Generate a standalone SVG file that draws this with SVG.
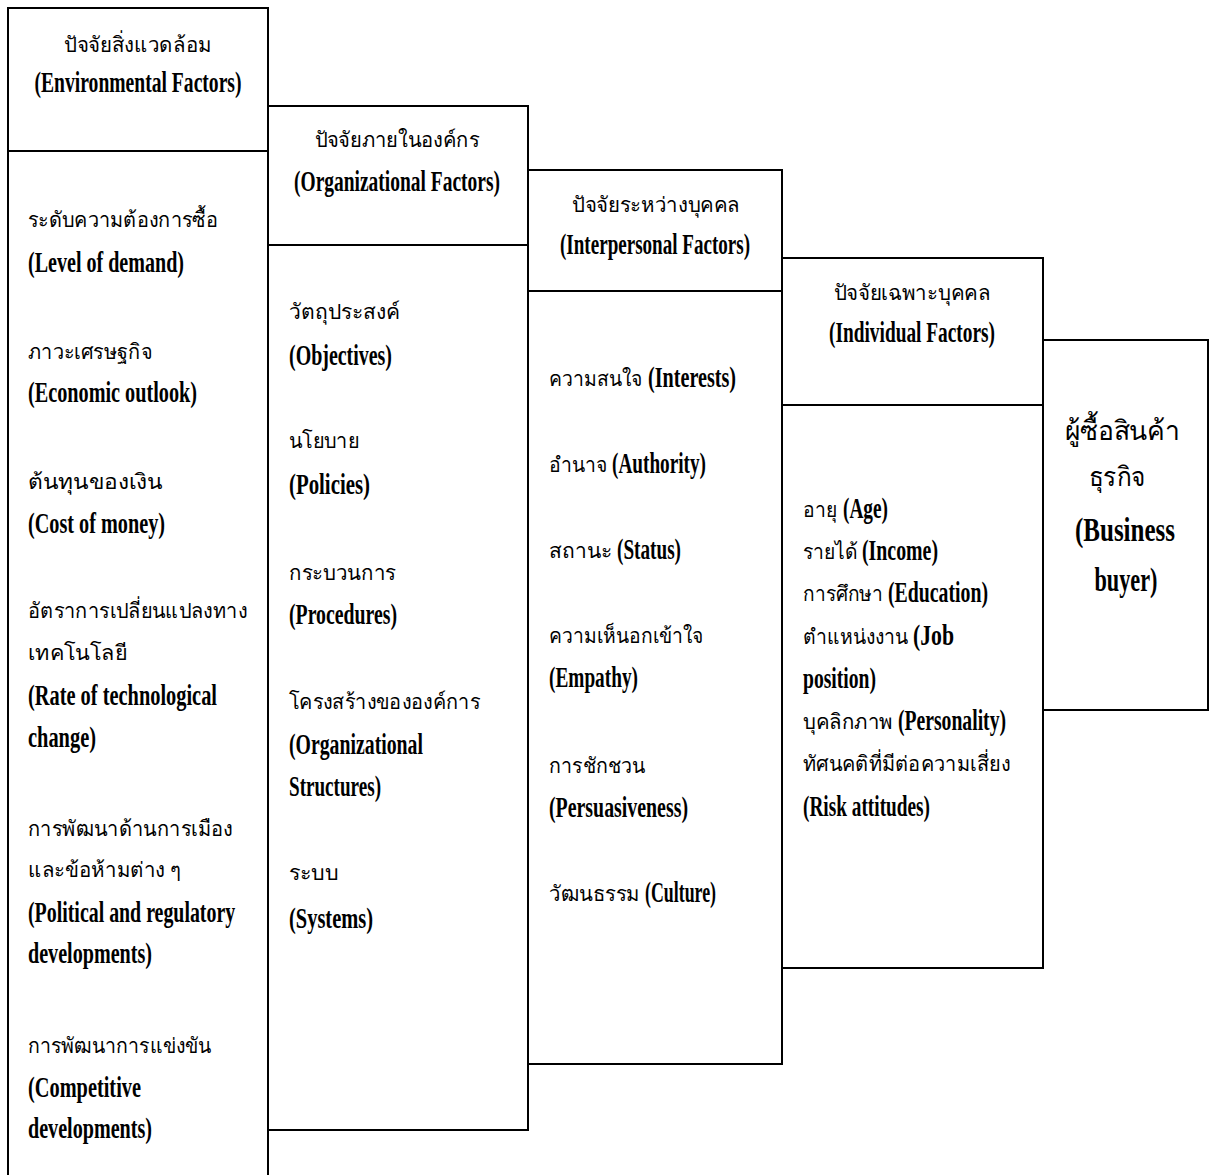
<svg xmlns="http://www.w3.org/2000/svg" width="1212" height="1175" viewBox="0 0 1212 1175">
<style>
.box{fill:#fff;stroke:#000;stroke-width:2}
.ln{fill:none;stroke:#000;stroke-width:2}
.th{font-family:"Liberation Serif","Noto Sans",serif;font-size:21px;fill:#000}
.en{font-family:"Liberation Serif",serif;font-weight:bold;font-size:29px;fill:#000}
.thL{font-family:"Liberation Serif","Noto Sans",serif;font-size:27px;fill:#000}
.enL{font-family:"Liberation Serif",serif;font-weight:bold;font-size:34px;fill:#000}
</style>
<rect width="1212" height="1175" fill="#fff"/>
<g id="connectors"/>
<g id="environmental">
<path class="box" d="M8,1180 V8 H268 V1180"/>
<line class="ln" x1="8" y1="151" x2="268" y2="151"/>
<text class="th" x="138" y="52" text-anchor="middle" textLength="148" lengthAdjust="spacingAndGlyphs">ปัจจัยสิ่งแวดล้อม</text>
<text class="en" x="138" y="92" text-anchor="middle" textLength="207" lengthAdjust="spacingAndGlyphs">(Environmental Factors)</text>
<text class="th" x="28" y="227" textLength="190" lengthAdjust="spacingAndGlyphs">ระดับความต้องการซื้อ</text>
<text class="en" x="28" y="272" textLength="156" lengthAdjust="spacingAndGlyphs">(Level of demand)</text>
<text class="th" x="28" y="359" textLength="124" lengthAdjust="spacingAndGlyphs">ภาวะเศรษฐกิจ</text>
<text class="en" x="28" y="402" textLength="169" lengthAdjust="spacingAndGlyphs">(Economic outlook)</text>
<text class="th" x="28" y="489" textLength="134" lengthAdjust="spacingAndGlyphs">ต้นทุนของเงิน</text>
<text class="en" x="28" y="533" textLength="137" lengthAdjust="spacingAndGlyphs">(Cost of money)</text>
<text class="th" x="28" y="618" textLength="219" lengthAdjust="spacingAndGlyphs">อัตราการเปลี่ยนแปลงทาง</text>
<text class="th" x="28" y="660" textLength="99" lengthAdjust="spacingAndGlyphs">เทคโนโลยี</text>
<text class="en" x="28" y="705" textLength="189" lengthAdjust="spacingAndGlyphs">(Rate of technological</text>
<text class="en" x="28" y="747" textLength="68" lengthAdjust="spacingAndGlyphs">change)</text>
<text class="th" x="28" y="836" textLength="205" lengthAdjust="spacingAndGlyphs">การพัฒนาด้านการเมือง</text>
<text class="th" x="28" y="877" textLength="153" lengthAdjust="spacingAndGlyphs">และข้อห้ามต่าง ๆ</text>
<text class="en" transform="translate(28,922) scale(0.7,1)" x="0" y="0" textLength="296" lengthAdjust="spacingAndGlyphs">(Political and regulatory</text>
<text class="en" x="28" y="963" textLength="124" lengthAdjust="spacingAndGlyphs">developments)</text>
<text class="th" x="28" y="1053" textLength="183" lengthAdjust="spacingAndGlyphs">การพัฒนาการแข่งขัน</text>
<text class="en" x="28" y="1097" textLength="113" lengthAdjust="spacingAndGlyphs">(Competitive</text>
<text class="en" x="28" y="1138" textLength="124" lengthAdjust="spacingAndGlyphs">developments)</text>
</g>
<g id="organizational">
<rect class="box" x="268" y="106" width="260" height="1024"/>
<line class="ln" x1="268" y1="245" x2="528" y2="245"/>
<text class="th" x="397" y="147" text-anchor="middle" textLength="165" lengthAdjust="spacingAndGlyphs">ปัจจัยภายในองค์กร</text>
<text class="en" x="397" y="191" text-anchor="middle" textLength="206" lengthAdjust="spacingAndGlyphs">(Organizational Factors)</text>
<text class="th" x="289" y="319" textLength="111" lengthAdjust="spacingAndGlyphs">วัตถุประสงค์</text>
<text class="en" x="289" y="365" textLength="103" lengthAdjust="spacingAndGlyphs">(Objectives)</text>
<text class="th" x="289" y="448" textLength="70" lengthAdjust="spacingAndGlyphs">นโยบาย</text>
<text class="en" x="289" y="494" textLength="81" lengthAdjust="spacingAndGlyphs">(Policies)</text>
<text class="th" x="289" y="580" textLength="107" lengthAdjust="spacingAndGlyphs">กระบวนการ</text>
<text class="en" x="289" y="624" textLength="108" lengthAdjust="spacingAndGlyphs">(Procedures)</text>
<text class="th" x="289" y="709" textLength="191" lengthAdjust="spacingAndGlyphs">โครงสร้างขององค์การ</text>
<text class="en" x="289" y="754" textLength="134" lengthAdjust="spacingAndGlyphs">(Organizational</text>
<text class="en" x="289" y="796" textLength="92" lengthAdjust="spacingAndGlyphs">Structures)</text>
<text class="th" x="289" y="880" textLength="49" lengthAdjust="spacingAndGlyphs">ระบบ</text>
<text class="en" x="289" y="928" textLength="84" lengthAdjust="spacingAndGlyphs">(Systems)</text>
</g>
<g id="interpersonal">
<rect class="box" x="528" y="170" width="254" height="894"/>
<line class="ln" x1="528" y1="291" x2="782" y2="291"/>
<text class="th" x="656" y="212" text-anchor="middle" textLength="168" lengthAdjust="spacingAndGlyphs">ปัจจัยระหว่างบุคคล</text>
<text class="en" x="655" y="254" text-anchor="middle" textLength="190" lengthAdjust="spacingAndGlyphs">(Interpersonal Factors)</text>
<text class="th" x="549" y="386" textLength="93" lengthAdjust="spacingAndGlyphs">ความสนใจ</text>
<text class="en" x="648" y="387" textLength="88" lengthAdjust="spacingAndGlyphs">(Interests)</text>
<text class="th" x="549" y="472" textLength="58" lengthAdjust="spacingAndGlyphs">อำนาจ</text>
<text class="en" x="612" y="473" textLength="94" lengthAdjust="spacingAndGlyphs">(Authority)</text>
<text class="th" x="549" y="558" textLength="63" lengthAdjust="spacingAndGlyphs">สถานะ</text>
<text class="en" x="617" y="559" textLength="64" lengthAdjust="spacingAndGlyphs">(Status)</text>
<text class="th" x="549" y="643" textLength="154" lengthAdjust="spacingAndGlyphs">ความเห็นอกเข้าใจ</text>
<text class="en" x="549" y="687" textLength="89" lengthAdjust="spacingAndGlyphs">(Empathy)</text>
<text class="th" x="549" y="773" textLength="96" lengthAdjust="spacingAndGlyphs">การชักชวน</text>
<text class="en" x="549" y="817" textLength="139" lengthAdjust="spacingAndGlyphs">(Persuasiveness)</text>
<text class="th" x="549" y="901" textLength="91" lengthAdjust="spacingAndGlyphs">วัฒนธรรม</text>
<text class="en" x="645" y="902" textLength="71" lengthAdjust="spacingAndGlyphs">(Culture)</text>
</g>
<g id="individual">
<rect class="box" x="782" y="258" width="261" height="710"/>
<line class="ln" x1="782" y1="405" x2="1043" y2="405"/>
<text class="th" x="912" y="300" text-anchor="middle" textLength="157" lengthAdjust="spacingAndGlyphs">ปัจจัยเฉพาะบุคคล</text>
<text class="en" x="912" y="342" text-anchor="middle" textLength="166" lengthAdjust="spacingAndGlyphs">(Individual Factors)</text>
<text class="th" x="803" y="517" textLength="34" lengthAdjust="spacingAndGlyphs">อายุ</text>
<text class="en" x="843" y="518" textLength="45" lengthAdjust="spacingAndGlyphs">(Age)</text>
<text class="th" x="803" y="559" textLength="55" lengthAdjust="spacingAndGlyphs">รายได้</text>
<text class="en" x="862" y="560" textLength="76" lengthAdjust="spacingAndGlyphs">(Income)</text>
<text class="th" x="803" y="601" textLength="80" lengthAdjust="spacingAndGlyphs">การศึกษา</text>
<text class="en" x="888" y="602" textLength="100" lengthAdjust="spacingAndGlyphs">(Education)</text>
<text class="th" x="803" y="644" textLength="105" lengthAdjust="spacingAndGlyphs">ตำแหน่งงาน</text>
<text class="en" x="913" y="645" textLength="41" lengthAdjust="spacingAndGlyphs">(Job</text>
<text class="en" x="803" y="688" textLength="73" lengthAdjust="spacingAndGlyphs">position)</text>
<text class="th" x="803" y="729" textLength="90" lengthAdjust="spacingAndGlyphs">บุคลิกภาพ</text>
<text class="en" x="898" y="730" textLength="108" lengthAdjust="spacingAndGlyphs">(Personality)</text>
<text class="th" x="803" y="771" textLength="207" lengthAdjust="spacingAndGlyphs">ทัศนคติที่มีต่อความเสี่ยง</text>
<text class="en" x="803" y="816" textLength="127" lengthAdjust="spacingAndGlyphs">(Risk attitudes)</text>
</g>
<g id="business-buyer">
<rect class="box" x="1043" y="340" width="165" height="370"/>
<text class="thL" x="1122" y="440" text-anchor="middle" textLength="115" lengthAdjust="spacingAndGlyphs">ผู้ซื้อสินค้า</text>
<text class="thL" x="1117" y="486" text-anchor="middle" textLength="57" lengthAdjust="spacingAndGlyphs">ธุรกิจ</text>
<text class="enL" x="1125" y="541" text-anchor="middle" textLength="100" lengthAdjust="spacingAndGlyphs">(Business</text>
<text class="enL" x="1126" y="591" text-anchor="middle" textLength="63" lengthAdjust="spacingAndGlyphs">buyer)</text>
</g>
</svg>
